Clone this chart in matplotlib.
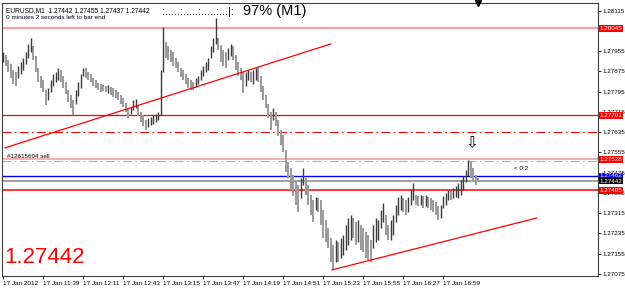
import numpy as np
import matplotlib
matplotlib.use("Agg")
import matplotlib.pyplot as plt

plt.rcParams['font.family'] = ['Liberation Sans', 'DejaVu Sans']

# ---------------- Data (EURUSD M1, sampled every 2 minutes from 11:07) ----------------
bar_high = [
    1.27952, 1.27940, 1.27920, 1.27905, 1.27881, 1.27873, 1.27897, 1.27912, 1.27928, 1.27952,
    1.27984, 1.28007, 1.27976, 1.27936, 1.27889, 1.27857, 1.27841, 1.27802, 1.27810, 1.27841,
    1.27865, 1.27873, 1.27889, 1.27881, 1.27857, 1.27833, 1.27802, 1.27782, 1.27762, 1.27802,
    1.27833, 1.27865, 1.27889, 1.27889, 1.27873, 1.27865, 1.27849, 1.27841, 1.27829, 1.27826,
    1.27822, 1.27818, 1.27822, 1.27814, 1.27810, 1.27802, 1.27794, 1.27782, 1.27770, 1.27750,
    1.27731, 1.27735, 1.27762, 1.27766, 1.27739, 1.27715, 1.27703, 1.27683, 1.27691, 1.27695,
    1.27703, 1.27707, 1.27715, 1.27881, 1.28051, 1.27991, 1.27976, 1.27960, 1.27952, 1.27928,
    1.27912, 1.27889, 1.27881, 1.27865, 1.27849, 1.27841, 1.27833, 1.27849, 1.27857, 1.27881,
    1.27897, 1.27912, 1.27928, 1.27976, 1.28007, 1.28086, 1.28007, 1.27980, 1.27960, 1.27952,
    1.27968, 1.27984, 1.27976, 1.27940, 1.27912, 1.27889, 1.27873, 1.27873, 1.27881, 1.27873,
    1.27881, 1.27889, 1.27893, 1.27857, 1.27818, 1.27782, 1.27747, 1.27715, 1.27731, 1.27715,
    1.27683, 1.27644, 1.27624, 1.27565, 1.27517, 1.27494, 1.27466, 1.27446, 1.27427, 1.27454,
    1.27494, 1.27454, 1.27427, 1.27387, 1.27367, 1.27379, 1.27375, 1.27367, 1.27328, 1.27288,
    1.27257, 1.27217, 1.27190, 1.27209, 1.27201, 1.27217, 1.27229, 1.27269, 1.27296, 1.27308,
    1.27296, 1.27280, 1.27288, 1.27269, 1.27257, 1.27241, 1.27229, 1.27209, 1.27269, 1.27296,
    1.27288, 1.27328, 1.27355, 1.27308, 1.27269, 1.27288, 1.27308, 1.27348, 1.27379, 1.27387,
    1.27375, 1.27367, 1.27379, 1.27407, 1.27434, 1.27387, 1.27383, 1.27387, 1.27383, 1.27387,
    1.27379, 1.27375, 1.27367, 1.27359, 1.27344, 1.27348, 1.27383, 1.27395, 1.27407, 1.27403,
    1.27415, 1.27423, 1.27434, 1.27446, 1.27462, 1.27486, 1.27525, 1.27517, 1.27494, 1.27466,
    1.27455,
]
bar_low = [
    1.27912, 1.27897, 1.27873, 1.27849, 1.27826, 1.27818, 1.27849, 1.27865, 1.27881, 1.27905,
    1.27928, 1.27952, 1.27920, 1.27873, 1.27833, 1.27810, 1.27794, 1.27743, 1.27762, 1.27794,
    1.27818, 1.27833, 1.27841, 1.27833, 1.27810, 1.27786, 1.27754, 1.27731, 1.27703, 1.27747,
    1.27778, 1.27810, 1.27857, 1.27849, 1.27841, 1.27833, 1.27818, 1.27810, 1.27802, 1.27794,
    1.27798, 1.27794, 1.27790, 1.27782, 1.27774, 1.27770, 1.27762, 1.27747, 1.27735, 1.27715,
    1.27691, 1.27707, 1.27723, 1.27731, 1.27699, 1.27675, 1.27660, 1.27644, 1.27656, 1.27664,
    1.27668, 1.27675, 1.27683, 1.27703, 1.27873, 1.27928, 1.27920, 1.27912, 1.27897, 1.27889,
    1.27873, 1.27853, 1.27841, 1.27826, 1.27810, 1.27802, 1.27802, 1.27814, 1.27826, 1.27841,
    1.27857, 1.27873, 1.27881, 1.27928, 1.27952, 1.27984, 1.27960, 1.27912, 1.27897, 1.27889,
    1.27920, 1.27936, 1.27920, 1.27881, 1.27857, 1.27841, 1.27790, 1.27818, 1.27841, 1.27833,
    1.27826, 1.27841, 1.27833, 1.27794, 1.27762, 1.27731, 1.27691, 1.27644, 1.27683, 1.27660,
    1.27620, 1.27585, 1.27557, 1.27478, 1.27454, 1.27407, 1.27383, 1.27348, 1.27320, 1.27375,
    1.27427, 1.27387, 1.27348, 1.27308, 1.27280, 1.27328, 1.27320, 1.27269, 1.27217, 1.27201,
    1.27178, 1.27122, 1.27091, 1.27122, 1.27122, 1.27138, 1.27150, 1.27170, 1.27190, 1.27209,
    1.27217, 1.27190, 1.27201, 1.27170, 1.27162, 1.27138, 1.27130, 1.27122, 1.27178, 1.27201,
    1.27209, 1.27257, 1.27280, 1.27229, 1.27209, 1.27209, 1.27229, 1.27280, 1.27308, 1.27328,
    1.27320, 1.27308, 1.27320, 1.27348, 1.27367, 1.27348, 1.27344, 1.27348, 1.27336, 1.27344,
    1.27336, 1.27328, 1.27320, 1.27308, 1.27288, 1.27296, 1.27336, 1.27348, 1.27367, 1.27367,
    1.27375, 1.27379, 1.27375, 1.27387, 1.27407, 1.27438, 1.27462, 1.27454, 1.27438, 1.27427,
    1.27437,
]
bar_step = 2  # minutes between listed bars

# horizontal levels
level_pink_top = 1.28045
level_red_1 = 1.27701
level_dashdot = 1.27634
level_pink_mid = 1.27528
level_green = 1.27520
level_blue = 1.27462
level_bid = 1.27442
level_red_2 = 1.27405

# trend lines: (minute index, price)
trend_upper = [(1.6, 1.27573), (262.0, 1.27983)]
trend_lower = [(263.2, 1.27091), (427.0, 1.27296)]

# axis ticks
price_ticks = [1.28115, 1.27955, 1.27875, 1.27795, 1.27715, 1.27635,
               1.27555, 1.27475, 1.27395, 1.27315, 1.27235, 1.27155, 1.27075]
time_ticks = [0, 32, 64, 96, 128, 160, 192, 224, 256, 288, 320, 352]
time_labels = ["17 Jan 2012", "17 Jan 11:39", "17 Jan 12:11", "17 Jan 12:43",
               "17 Jan 13:15", "17 Jan 13:47", "17 Jan 14:19", "17 Jan 14:51",
               "17 Jan 15:23", "17 Jan 15:55", "17 Jan 16:27", "17 Jan 16:59"]

# price labels with coloured boxes on the right axis
box_levels = [(1.28045, "#ff0000"), (1.27701, "#ff0000"), (1.27528, "#ff0000"),
              (1.27462, "#0000ff"), (1.27442, "#000000"), (1.27405, "#ff0000")]

# ---------------- Figure ----------------
W, H = 625, 289
fig = plt.figure(figsize=(W / 100, H / 100), dpi=100)
ax = fig.add_axes([2 / W, (H - 276) / H, 596 / W, 273 / H])

ax.set_xlim(-0.8, 476)
ax.set_ylim(1.27067, 1.28145)

# price bars
hi = np.array(bar_high)
lo = np.array(bar_low)
xb = np.arange(len(hi)) * bar_step
mid = (hi + lo) / 2
up = np.r_[True, mid[1:] >= mid[:-1]]
ax.vlines(xb[~up], lo[~up], hi[~up], color="#9a9a9a", lw=1.4, zorder=3)
ax.vlines(xb[up], lo[up], hi[up], color="#3a3a3a", lw=1.0, zorder=3)

# horizontal lines
ax.axhline(level_pink_top, color="#f4a0a0", lw=1.6, zorder=2)
ax.axhline(level_red_1, color="#ff0000", lw=0.9, zorder=2)
ax.axhline(level_dashdot, color="#ff0000", lw=0.8, ls=(0, (8, 3, 1.5, 3)), zorder=2)
ax.axhline(level_pink_mid, color="#f4a0a0", lw=1.2, zorder=2)
ax.axhline(level_green, color="#7fcf7f", lw=0.8, ls=(0, (8, 3, 1.5, 3)), zorder=2)
ax.axhline(level_blue, color="#0000ff", lw=1.0, zorder=2)
ax.axhline(level_bid, color="#a0a0a0", lw=1.4, zorder=2)
ax.axhline(level_red_2, color="#ff0000", lw=1.1, zorder=2)

# trend lines
for line in (trend_upper, trend_lower):
    ax.plot([p[0] for p in line], [p[1] for p in line], color="#ff0000", lw=0.9, zorder=4)

# axes look
for s in ax.spines.values():
    s.set_color("#404040")
    s.set_linewidth(0.8)
ax.yaxis.tick_right()
ax.set_yticks(price_ticks)
ax.set_yticklabels([f"{p:.5f}" for p in price_ticks])
ax.tick_params(axis="y", length=2, width=0.6, pad=1, labelsize=4.5, colors="#000000")
ax.set_xticks(time_ticks)
ax.set_xticklabels(time_labels, ha="left")
ax.tick_params(axis="x", length=2, width=0.6, pad=1.5, labelsize=4.6)

ytr = ax.get_yaxis_transform()
for price, col in box_levels:
    ax.text(1.003, price, f"{price:.5f}", transform=ytr, ha="left", va="center",
            fontsize=4.5, color="white", zorder=10, clip_on=False,
            bbox=dict(boxstyle="square,pad=0.15", fc=col, ec="none"))

# texts
ax.text(0.007, 0.985, "EURUSD,M1  1.27442 1.27455 1.27437 1.27442", transform=ax.transAxes,
        fontsize=4.8, va="top", ha="left")
ax.text(0.007, 0.955, "0 minutes 2 seconds left to bar end", transform=ax.transAxes,
        fontsize=4.6, va="top", ha="left")
ax.text(160 / 596, 0.985, ":.....:.....:.....:...|:", transform=ax.transAxes,
        fontsize=8, va="top", ha="left")
ax.text(241 / 596, 0.995, "97% (M1)", transform=ax.transAxes,
        fontsize=10.5, va="top", ha="left")
ax.text(0.003, 0.03, "1.27442", transform=ax.transAxes, fontsize=16, color="#ff0000",
        va="bottom", ha="left")
ax.text(5 / 596, level_pink_mid, "#12615604 sell", fontsize=4.5, va="bottom", ha="left",
        transform=ytr)
ax.text(375, 1.27595, "\u21e9", fontsize=11, ha="center", va="center", color="#000000",
        family="DejaVu Sans")
ax.text(409, 1.27490, "< 0:2", fontsize=4.5, ha="left", va="center")
ax.plot([380], [1.0], marker="v", color="black", ms=4, transform=ax.get_xaxis_transform(),
        clip_on=False, zorder=10)

fig.savefig("out.png", dpi=100, facecolor="white")
